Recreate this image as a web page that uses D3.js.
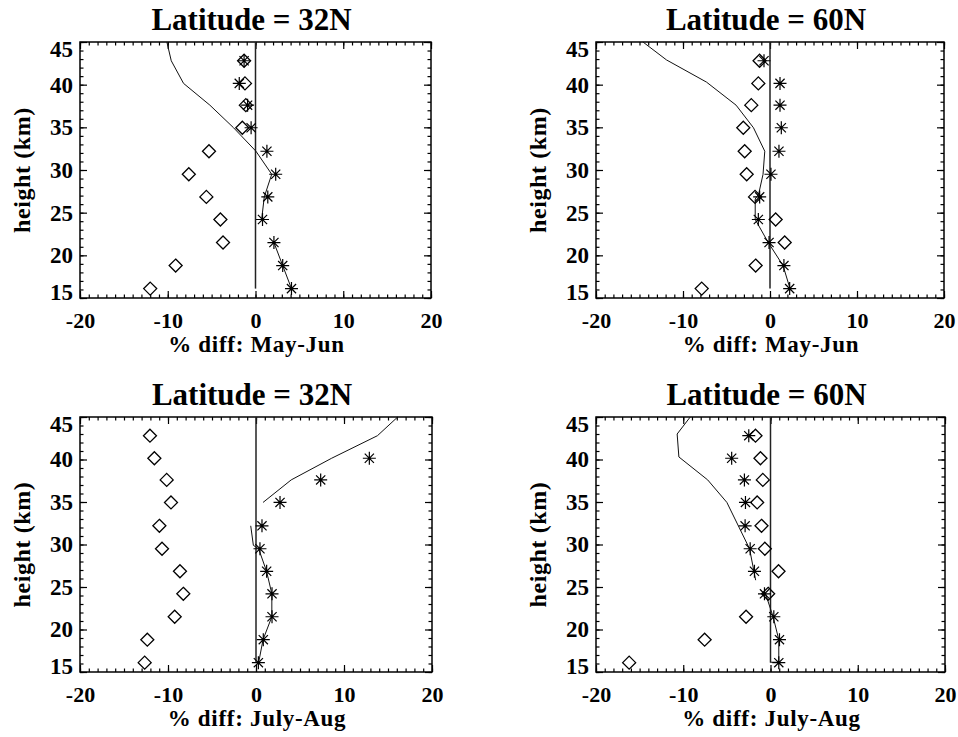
<!DOCTYPE html>
<html>
<head>
<meta charset="utf-8">
<script src="https://cdn.jsdelivr.net/npm/d3@7"></script>
<style>
  body { margin: 0; background: #fff; }
</style>
</head>
<body>
<svg width="958" height="737"></svg>
<script>
// heights (km) of the data levels, bottom to top
var levels = [16.1, 18.8, 21.5, 24.2, 26.85, 29.5, 32.2, 34.95, 37.6, 40.15, 42.8];
var xTicks = [-20, -10, 0, 10, 20];
var yTicks = [15, 20, 25, 30, 35, 40, 45];
var titles = ["Latitude = 32N", "Latitude = 60N", "Latitude = 32N", "Latitude = 60N"];
var xTitles = ["% diff: May-Jun", "% diff: May-Jun", "% diff: July-Aug", "% diff: July-Aug"];

// diamonds
var dia32May = [-12.0, -9.1, -3.7, -4.0, -5.6, -7.6, -5.3, -1.5, -1.1, -1.2, -1.3];
var dia60May = [-7.85, -1.65, 1.69, 0.65, -1.72, -2.68, -2.91, -3.07, -2.15, -1.34, -1.2];
var dia32Jul = [-12.65, -12.35, -9.24, -8.26, -8.64, -10.68, -10.98, -9.66, -10.15, -11.55, -12.05];
var dia60Jul = [-16.2, -7.55, -2.8, -0.27, 0.92, -0.65, -1.03, -1.53, -0.88, -1.15, -1.72];

// asterisks
var ast32May = [4.1, 3.1, 2.1, 0.8, 1.4, 2.3, 1.3, -0.5, -0.9, -1.85, -1.3];
var ast60May = [2.26, 1.6, -0.11, -1.34, -1.19, 0.11, 1.03, 1.3, 1.15, 1.15, -0.69];
var ast32Jul = [0.27, 0.83, 1.82, 1.82, 1.21, 0.45, 0.68, 2.73, 7.35, 12.88, null];
var ast60Jul = [0.95, 1.03, 0.38, -0.69, -1.84, -2.33, -2.91, -2.87, -2.99, -4.45, -2.49];

// thin line: heights and values (null = break)
var lineH32May = [16.1, 18.8, 21.5, null, 24.2, 26.85, 29.5, 32.2, 34.95, 37.6, 40.15, 42.8, 45];
var lineV32May = [4.1, 3.1, 2.1, null, 0.7, 1.0, 1.85, 0.05, -2.5, -5.2, -8.2, -9.6, -10.1];
var lineH60May = [16.1, 18.8, 21.5, 24.2, 26.6, 27.2, 29.5, 32.2, 34.95, 37.6, 40.3, 42.9, 45];
var lineV60May = [2.3, 1.5, -0.2, -1.7, -1.7, -1.3, -0.8, -0.6, -1.9, -3.9, -7.3, -11.9, -14.6];
var lineH32Jul = [16.1, 18.8, 21.5, 24.2, 26.85, 29.5, 29.9, 32.2, null, 34.95, 37.6, 40.15, 42.8, 45];
var lineV32Jul = [0.3, 0.8, 1.8, 1.8, 1.2, 0.3, -0.3, -0.6, null, 0.8, 4.0, 8.6, 13.8, 16.1];
var lineH60Jul = [16.15, 16.15, 18.8, 21.5, 24.3, null, 25.8, 29.5, 34.95, 37.6, 40.3, 43.0, 45];
var lineV60Jul = [0, 0.95, 0.95, 0.3, -0.6, null, -1.7, -2.4, -5.0, -7.2, -10.5, -10.7, -9.2];

var panels = [
  {x0: 80,  y0: 42,  w: 351, h: 256, dia: dia32May, ast: ast32May, lh: lineH32May, lv: lineV32May},
  {x0: 596, y0: 42,  w: 348, h: 256, dia: dia60May, ast: ast60May, lh: lineH60May, lv: lineV60May},
  {x0: 80,  y0: 417, w: 352, h: 255, dia: dia32Jul, ast: ast32Jul, lh: lineH32Jul, lv: lineV32Jul},
  {x0: 596, y0: 417, w: 349, h: 255, dia: dia60Jul, ast: ast60Jul, lh: lineH60Jul, lv: lineV60Jul}
];

var FONT = "'Liberation Serif', 'DejaVu Serif', 'Times New Roman', serif";
var svg = d3.select("svg");
var R = 6.5;
var diamondPath = "M0," + (-R) + "L" + R + ",0L0," + R + "L" + (-R) + ",0Z";
var a = R * Math.SQRT1_2;
var asteriskPath = "M" + (-R) + ",0H" + R + "M0," + (-R) + "V" + R +
    "M" + (-a) + "," + (-a) + "L" + a + "," + a + "M" + (-a) + "," + a + "L" + a + "," + (-a);

function noDomain(sel) { sel.select(".domain").remove(); }

panels.forEach(function(p, i) {
  var x = d3.scaleLinear().domain([-20, 20]).range([p.x0, p.x0 + p.w]);
  var y = d3.scaleLinear().domain([15, 45]).range([p.y0 + p.h, p.y0]);
  var g = svg.append("g");

  // ticks on all four sides, pointing inward
  var xMinor = d3.range(-20, 21, 1), yMinor = d3.range(15, 46, 1);
  [[d3.axisBottom, p.y0 + p.h], [d3.axisTop, p.y0]].forEach(function(s) {
    g.append("g").attr("transform", "translate(0," + s[1] + ")")
      .call(s[0](x).tickValues(xMinor).tickSize(-3.5).tickFormat("")).call(noDomain);
    g.append("g").attr("transform", "translate(0," + s[1] + ")")
      .call(s[0](x).tickValues(xTicks).tickSize(-7).tickFormat("")).call(noDomain);
  });
  [[d3.axisLeft, p.x0], [d3.axisRight, p.x0 + p.w]].forEach(function(s) {
    g.append("g").attr("transform", "translate(" + s[1] + ",0)")
      .call(s[0](y).tickValues(yMinor).tickSize(-3.5).tickFormat("")).call(noDomain);
    g.append("g").attr("transform", "translate(" + s[1] + ",0)")
      .call(s[0](y).tickValues(yTicks).tickSize(-7).tickFormat("")).call(noDomain);
  });
  g.selectAll(".tick line").attr("stroke", "#000").attr("stroke-width", 1.2);

  // tick labels
  var xl = g.append("g").attr("transform", "translate(0," + (p.y0 + p.h) + ")")
    .call(d3.axisBottom(x).tickValues(xTicks).tickSize(0).tickPadding(14.5)).call(noDomain);
  xl.attr("font-family", null).attr("font-size", null);
  xl.selectAll("text").style("font-family", FONT).style("font-weight", "bold").style("font-size", "22px")
    .attr("fill", "#000").text(function(d) { return d < 0 ? "-" + (-d) : d; });

  var yl = g.append("g").attr("transform", "translate(" + p.x0 + ",0)")
    .call(d3.axisLeft(y).tickValues(yTicks).tickSize(0).tickPadding(7)).call(noDomain);
  yl.attr("font-family", null).attr("font-size", null);
  yl.selectAll("text").style("font-family", FONT).style("font-weight", "bold").style("font-size", "23px")
    .attr("fill", "#000")
    .attr("dy", function(d) { return d == 45 ? "0.65em" : d == 15 ? "0.06em" : "0.32em"; });

  // frame
  g.append("rect").attr("x", p.x0).attr("y", p.y0).attr("width", p.w).attr("height", p.h)
    .attr("fill", "none").attr("stroke", "#000").attr("stroke-width", 1.5);

  // zero line
  g.append("line").attr("x1", x(0)).attr("x2", x(0))
    .attr("y1", y(levels[0])).attr("y2", y(45))
    .attr("stroke", "#222").attr("stroke-width", 1.5);

  // thin line
  var pts = p.lh.map(function(h, k) { return [h, p.lv[k]]; });
  var line = d3.line()
    .defined(function(d) { return d[0] != null && d[1] != null; })
    .x(function(d) { return x(d[1]); })
    .y(function(d) { return y(d[0]); });
  g.append("path").datum(pts).attr("d", line)
    .attr("fill", "none").attr("stroke", "#111").attr("stroke-width", 1);

  // diamonds
  g.selectAll(".dia").data(levels.map(function(h, k) { return [h, p.dia[k]]; }))
    .enter().append("path").attr("class", "dia")
    .attr("transform", function(d) { return "translate(" + x(d[1]) + "," + y(d[0]) + ")"; })
    .attr("d", diamondPath).attr("fill", "none").attr("stroke", "#000").attr("stroke-width", 1.3);

  // asterisks
  g.selectAll(".ast").data(levels.map(function(h, k) { return [h, p.ast[k]]; })
      .filter(function(d) { return d[1] != null; }))
    .enter().append("path").attr("class", "ast")
    .attr("transform", function(d) { return "translate(" + x(d[1]) + "," + y(d[0]) + ")"; })
    .attr("d", asteriskPath).attr("fill", "none").attr("stroke", "#000").attr("stroke-width", 1.2);

  // titles
  var cx = p.x0 + p.w / 2;
  g.append("text").attr("x", cx - 4).attr("y", p.y0 - 12.5).attr("text-anchor", "middle")
    .style("font-family", FONT).style("font-weight", "bold").style("font-size", "31px").text(titles[i]);
  g.append("text").attr("x", cx + 1).attr("y", p.y0 + p.h + 54).attr("text-anchor", "middle")
    .style("font-family", FONT).style("font-weight", "bold").style("font-size", "23px")
    .style("letter-spacing", "0.7px").text(xTitles[i]);
  g.append("text").attr("transform", "translate(" + (p.x0 - 50) + "," + (p.y0 + p.h / 2) + ") rotate(-90)")
    .attr("text-anchor", "middle")
    .style("font-family", FONT).style("font-weight", "bold").style("font-size", "24px")
    .style("letter-spacing", "0.6px").text("height (km)");
});
</script>
</body>
</html>
